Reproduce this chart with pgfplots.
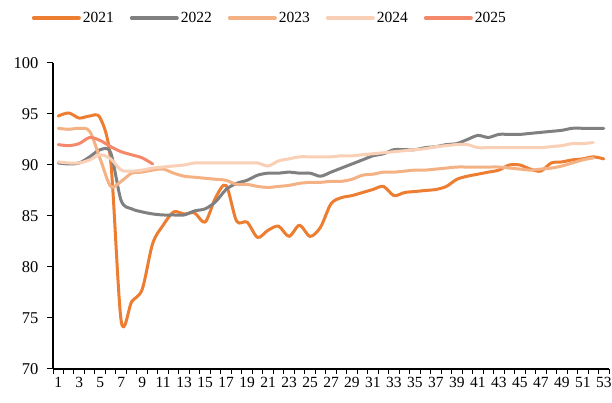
\documentclass[border=0pt]{standalone}
\usepackage{fontspec}
\setmainfont{Liberation Serif}
\usepackage{pgfplots}
\usepackage{pgfplotstable}
\pgfplotsset{compat=1.18}
\definecolor{c21}{HTML}{ED7D31}
\definecolor{c22}{HTML}{808080}
\definecolor{c23}{HTML}{F4B183}
\definecolor{c24}{HTML}{F9CFB5}
\definecolor{c25}{HTML}{F4886A}
\pgfplotstableread{
w v
1 94.8
2 95.1
3 94.6
4 94.8
5 94.6
6 90.4
7 74.7
8 76.6
9 77.8
10 82.3
11 84.1
12 85.4
13 85.2
14 85.3
15 84.4
16 86.8
17 88.0
18 84.5
19 84.4
20 82.9
21 83.6
22 84.0
23 83.0
24 84.1
25 83.0
26 83.9
27 86.2
28 86.8
29 87.0
30 87.3
31 87.6
32 87.9
33 87.0
34 87.3
35 87.4
36 87.5
37 87.6
38 87.9
39 88.6
40 88.9
41 89.1
42 89.3
43 89.5
44 90.0
45 90.0
46 89.6
47 89.4
48 90.2
49 90.3
50 90.5
51 90.6
52 90.8
53 90.6
}\tA
\pgfplotstableread{
w v
1 90.2
2 90.1
3 90.2
4 90.8
5 91.5
6 91.2
7 86.5
8 85.7
9 85.4
10 85.2
11 85.1
12 85.1
13 85.1
14 85.5
15 85.7
16 86.4
17 87.6
18 88.2
19 88.5
20 89.0
21 89.2
22 89.2
23 89.3
24 89.2
25 89.2
26 88.9
27 89.3
28 89.7
29 90.1
30 90.5
31 90.9
32 91.1
33 91.5
34 91.5
35 91.5
36 91.7
37 91.8
38 92.0
39 92.1
40 92.5
41 92.9
42 92.7
43 93.0
44 93.0
45 93.0
46 93.1
47 93.2
48 93.3
49 93.4
50 93.6
51 93.6
52 93.6
53 93.6
}\tB
\pgfplotstableread{
w v
1 93.6
2 93.5
3 93.6
4 93.3
5 90.6
6 87.9
7 88.4
8 89.2
9 89.3
10 89.5
11 89.6
12 89.2
13 88.9
14 88.8
15 88.7
16 88.6
17 88.5
18 88.1
19 88.1
20 87.9
21 87.8
22 87.9
23 88.0
24 88.2
25 88.3
26 88.3
27 88.4
28 88.4
29 88.6
30 89.0
31 89.1
32 89.3
33 89.3
34 89.4
35 89.5
36 89.5
37 89.6
38 89.7
39 89.8
40 89.8
41 89.8
42 89.8
43 89.8
44 89.7
45 89.6
46 89.5
47 89.6
48 89.7
49 89.9
50 90.2
51 90.5
52 90.7
}\tC
\pgfplotstableread{
w v
1 90.3
2 90.2
3 90.2
4 90.5
5 91.0
6 90.6
7 89.5
8 89.4
9 89.5
10 89.7
11 89.8
12 89.9
13 90.0
14 90.2
15 90.2
16 90.2
17 90.2
18 90.2
19 90.2
20 90.2
21 89.9
22 90.4
23 90.6
24 90.8
25 90.8
26 90.8
27 90.8
28 90.9
29 90.9
30 91.0
31 91.1
32 91.2
33 91.3
34 91.4
35 91.5
36 91.6
37 91.8
38 91.9
39 92.0
40 92.0
41 91.7
42 91.7
43 91.7
44 91.7
45 91.7
46 91.7
47 91.7
48 91.8
49 91.9
50 92.1
51 92.1
52 92.2
}\tD
\pgfplotstableread{
w v
1 92.0
2 91.9
3 92.1
4 92.7
5 92.4
6 91.8
7 91.3
8 91.0
9 90.7
10 90.1
}\tE
\begin{document}
\begin{tikzpicture}[x=1pt,y=1pt]
\useasboundingbox (0,0) rectangle (612,403);
\begin{axis}[
  at={(53pt,34pt)}, anchor=south west,
  scale only axis, width=556pt, height=306pt,
  xmin=0.5, xmax=53.5, ymin=70, ymax=100,
  axis x line=bottom, axis y line=left,
  axis line style={-, line width=1.2pt, black},
  ytick={70,75,...,100},
  xtick={1,3,...,53},
  minor xtick={0.5,1.5,...,53.5},
  tick align=outside,
  major tick length=6pt, minor tick length=5pt,
  major x tick style={draw=none},
  minor x tick style={black, line width=1pt},
  major y tick style={black, line width=1pt},
  yticklabel style={font=\fontsize{16.5}{16.5}\selectfont, xshift=-5pt},
  xticklabel style={font=\fontsize{15.5}{15.5}\selectfont, yshift=1pt},
  /pgf/number format/assume math mode=true,
  every axis plot/.append style={line width=3pt, smooth, tension=0.5, line cap=round, line join=round, no markers},
  legend image code/.code={\draw[#1, line width=4pt] (0pt,0pt) -- (45pt,0pt);},
  legend style={at={(0.39,1.147)}, anchor=center, draw=none, fill=none,
    legend columns=5, font=\fontsize{15.5}{15.5}\selectfont,
    /tikz/every even column/.append style={column sep=14pt}},
]
\addplot[c21] table[x=w,y=v]{\tA}; \addlegendentry{2021}
\addplot[c22] table[x=w,y=v]{\tB}; \addlegendentry{2022}
\addplot[c23] table[x=w,y=v]{\tC}; \addlegendentry{2023}
\addplot[c24] table[x=w,y=v]{\tD}; \addlegendentry{2024}
\addplot[c25] table[x=w,y=v]{\tE}; \addlegendentry{2025}
\end{axis}
\end{tikzpicture}
\end{document}
